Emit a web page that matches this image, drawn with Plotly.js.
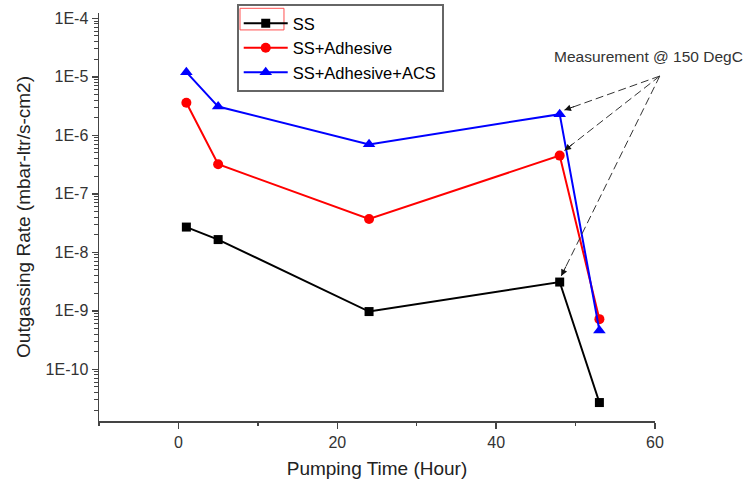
<!DOCTYPE html>
<html>
<head>
<meta charset="utf-8">
<script src="https://cdn.plot.ly/plotly-3.0.1.min.js"></script>
<style>html,body{margin:0;padding:0;background:#fff;}#chart{width:754px;height:486px;}</style>
</head>
<body>
<div id="chart"></div>
<script>
// ---- data ----
var pumpingTime = [1, 5, 24, 48, 53];
var ss = [2.7e-8, 1.65e-8, 9.7e-10, 3.1e-9, 2.7e-11];
var ssAdhesive = [3.6e-6, 3.2e-7, 3.7e-8, 4.5e-7, 7.2e-10];
var ssAdhesiveAcs = [1.2e-5, 3.1e-6, 7.0e-7, 2.3e-6, 4.6e-10];
var seriesNames = ['SS', 'SS+Adhesive', 'SS+Adhesive+ACS'];
var yTickVals = [1e-10, 1e-9, 1e-8, 1e-7, 1e-6, 1e-5, 1e-4];
var yTickText = ['1E-10', '1E-9', '1E-8', '1E-7', '1E-6', '1E-5', '1E-4'];
var calloutText = 'Measurement @ 150 DegC';
// callout targets (hour, rate) and apex
var calloutTargets = [[48.6, 2.7e-6], [48.6, 5.5e-7], [48.2, 3.95e-9]];
var calloutApex = [60.6, 1.03e-5];
var calloutLabel = [59.2, 2.26e-5];

// ---- setup ----
var xRange = [-10, 60];
var yRangeLog = [-10.884, -3.909];
var font = '"Liberation Sans", Arial, sans-serif';

var minorVals = [];
for (var e = -11; e <= -4; e++) {
  for (var m = 2; m <= 9; m++) minorVals.push(m * Math.pow(10, e));
}
function px(x) { return (x - xRange[0]) / (xRange[1] - xRange[0]); }
function py(v) { return (Math.log10(v) - yRangeLog[0]) / (yRangeLog[1] - yRangeLog[0]); }

var colors = ['#000000', '#ff0000', '#0000ff'];
var symbols = ['square', 'circle', 'triangle-up'];
var sizes = [9, 10, 11];
var ys = [ss, ssAdhesive, ssAdhesiveAcs];
var traces = ys.map(function (y, i) {
  return {
    x: pumpingTime, y: y, name: seriesNames[i], type: 'scatter', mode: 'lines+markers',
    line: {color: colors[i], width: 2},
    marker: {color: colors[i], symbol: symbols[i], size: sizes[i]}
  };
});

var shapes = calloutTargets.map(function (t) {
  return {type: 'line', xref: 'paper', yref: 'paper',
    x0: px(calloutApex[0]), y0: py(calloutApex[1]), x1: px(t[0]), y1: py(t[1]),
    line: {color: '#333', width: 1, dash: '8px,4px'}};
});
shapes.push({type: 'rect', xref: 'paper', yref: 'paper', x0: 0.2536, x1: 0.3327, y0: 0.9585, y1: 1.0115,
  line: {color: '#ff5050', width: 1}, fillcolor: 'rgba(0,0,0,0)'});

var arrowOffsets = [[11, -4], [9.4, -7.4], [5.3, -10.8]];
var annotations = calloutTargets.map(function (t, i) {
  return {x: t[0], y: Math.log10(t[1]), xref: 'x', yref: 'y', text: '', showarrow: true,
    arrowhead: 2, arrowsize: 1.3, arrowwidth: 1, arrowcolor: '#111',
    ax: arrowOffsets[i][0], ay: arrowOffsets[i][1]};
});
annotations.push({x: calloutLabel[0], y: Math.log10(calloutLabel[1]), xref: 'x', yref: 'y',
  text: calloutText, showarrow: false, xanchor: 'center', yanchor: 'middle',
  font: {family: font, size: 15.5, color: '#333'}});

var layout = {
  width: 754, height: 486,
  margin: {l: 99, r: 99, t: 13, b: 65, pad: 0, autoexpand: false},
  paper_bgcolor: '#fff', plot_bgcolor: '#fff',
  font: {family: font, color: '#222'},
  showlegend: true,
  legend: {x: 0.2477, y: 1.022, xanchor: 'left', yanchor: 'top',
    bgcolor: 'rgba(255,255,255,0)', bordercolor: '#666', borderwidth: 2,
    font: {family: font, size: 16.5, color: '#000'}, itemwidth: 44},
  xaxis: {
    range: xRange, tickmode: 'linear', tick0: 0, dtick: 20,
    ticks: 'outside', ticklen: 6, tickwidth: 1.5, tickcolor: '#444',
    showline: true, linecolor: '#444', linewidth: 1.5,
    showgrid: false, zeroline: false,
    tickfont: {family: font, size: 16, color: '#333'},
    minor: {tick0: 0, dtick: 10, ticks: 'outside', ticklen: 3, tickwidth: 1.5, tickcolor: '#444', showgrid: false},
    title: {text: 'Pumping Time (Hour)', font: {family: font, size: 19, color: '#222'}, standoff: 12},
    automargin: false
  },
  yaxis: {
    type: 'log', range: yRangeLog,
    tickmode: 'array', tickvals: yTickVals, ticktext: yTickText,
    ticks: 'outside', ticklen: 6, tickwidth: 1.5, tickcolor: '#444',
    showline: true, linecolor: '#444', linewidth: 1.5,
    showgrid: false, zeroline: false,
    tickfont: {family: font, size: 16, color: '#333'},
    minor: {tickmode: 'array', tickvals: minorVals, ticks: 'outside', ticklen: 4, tickwidth: 1, tickcolor: '#444', showgrid: false},
    title: {text: 'Outgassing Rate (mbar-ltr/s-cm2)', font: {family: font, size: 19, color: '#222'}, standoff: 10},
    automargin: false
  },
  shapes: shapes,
  annotations: annotations
};

Plotly.newPlot('chart', traces, layout, {displayModeBar: false, staticPlot: true});
</script>
</body>
</html>
